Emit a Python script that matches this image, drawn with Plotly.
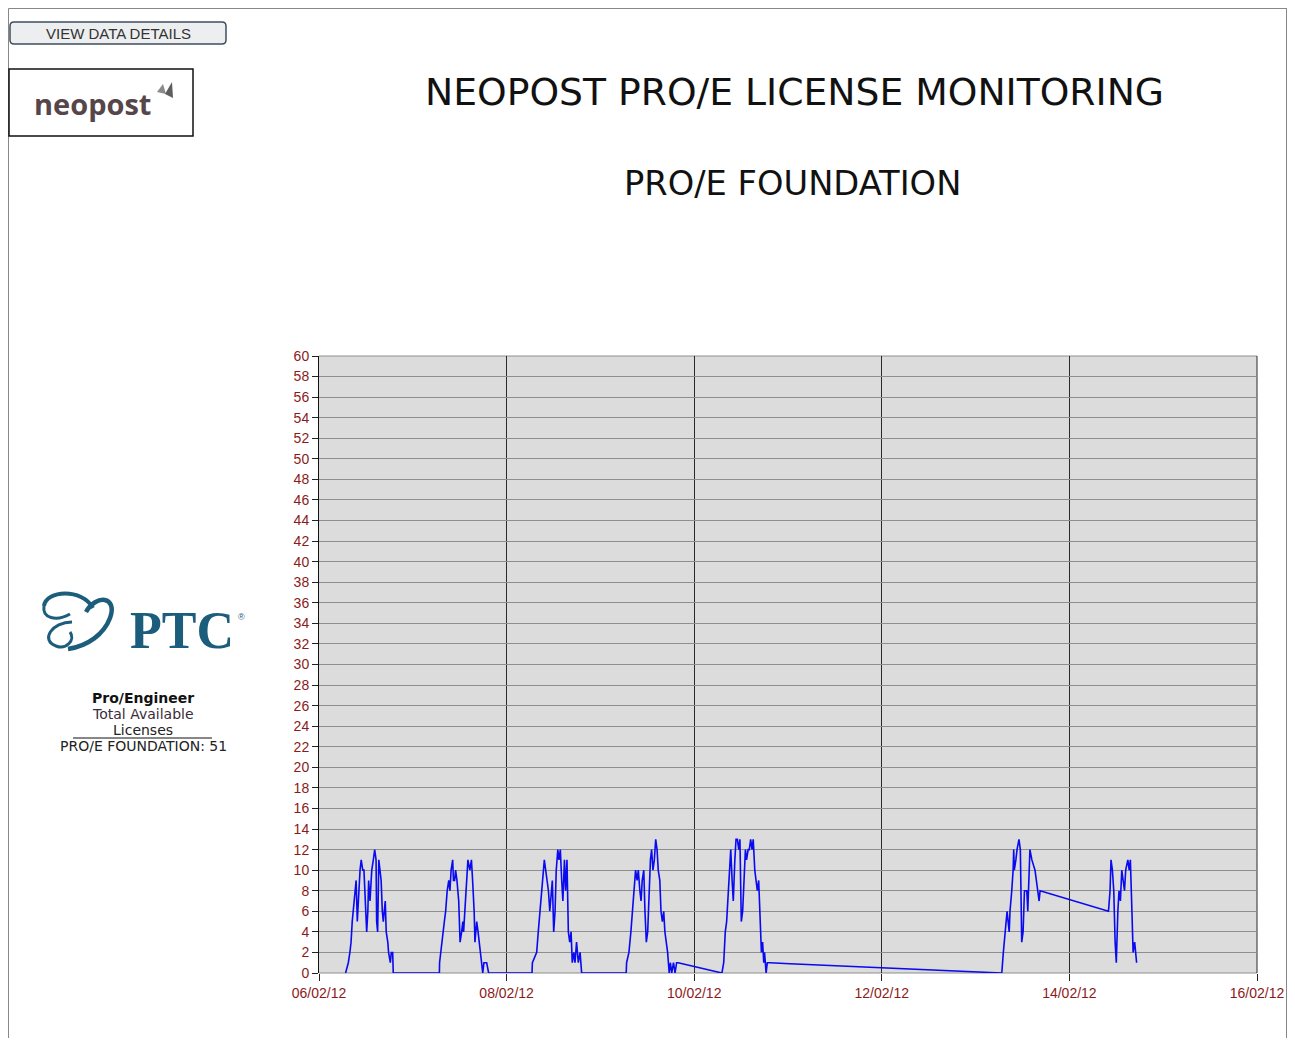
import datetime as dt
import plotly.graph_objects as go

# ---------------- data ----------------
start_date = dt.datetime(2012, 2, 6)
hours_since_start = [
    6.8, 7.5, 7.9, 8.2, 8.5, 9.0, 9.5, 9.8, 10.2, 10.5, 10.8, 11.2, 11.5, 11.85, 12.2, 12.5, 12.7, 13.05,
    13.5, 13.9, 14.25, 14.6, 14.75, 15.0, 15.3, 15.6, 15.9, 16.2, 16.45, 16.7, 16.95, 17.2, 17.6, 17.8,
    18.25, 18.5, 18.85, 19.0,
    30.8, 30.85, 31.55, 32.07, 32.4, 32.8, 33.2, 33.5, 33.8, 34.2, 34.4, 34.7, 34.95, 35.3, 35.75, 36.1,
    36.5, 36.8, 37.0, 37.35, 37.8, 38.1, 38.6, 39.0, 39.3, 39.7, 39.9, 40.35, 40.7, 41.0, 41.2, 41.5,
    41.9, 42.2, 42.9, 43.4,
    54.5, 54.6, 55.7, 56.1, 56.55, 57.0, 57.4, 57.65, 58.0, 58.35, 58.7, 59.05, 59.4, 59.7, 60.05, 60.4,
    60.7, 61.1, 61.4, 61.75, 62.1, 62.4, 62.8, 63.1, 63.45, 63.8, 64.15, 64.5, 64.8, 65.2, 65.5, 65.9,
    66.35, 66.8, 67.2,
    78.6, 78.7, 79.3, 79.8, 80.2, 80.5, 81.0, 81.4, 81.7, 82.1, 82.4, 82.7, 83.1, 83.4, 83.75, 84.1,
    84.4, 84.8, 85.1, 85.45, 85.8, 86.15, 86.5, 86.8, 87.2, 87.5, 87.85, 88.2, 88.5, 88.9, 89.2, 89.6,
    89.9, 90.25, 90.7, 91.1, 91.5, 91.9, 102.6,
    103.1, 103.55, 103.95, 104.3, 104.65, 105.0, 105.35, 105.7, 106.0, 106.4, 106.7, 107.05, 107.4,
    107.7, 108.05, 108.4, 108.75, 109.1, 109.4, 109.8, 110.1, 110.45, 110.8, 111.1, 111.5, 111.8,
    112.15, 112.5, 112.85, 113.2, 113.5, 113.8, 114.0, 114.4, 114.7, 115.4, 120.5, 174.3,
    174.7, 175.1, 175.5, 176.05, 176.6, 176.8, 177.25, 177.6, 177.75, 177.9, 178.3, 178.6, 179.1,
    179.45, 179.8, 180.15, 180.5, 181.1, 181.35, 181.9, 182.4, 183.2, 183.55, 183.9, 184.25, 184.5,
    202.0,
    202.4, 202.65, 203.0, 203.35, 203.7, 204.0, 204.4, 204.7, 205.05, 205.4, 205.75, 206.1, 206.4,
    206.95, 207.3, 207.6, 208.0, 208.3, 208.7, 209.2,
]
licenses_in_use = [
    0, 1, 2, 3, 5, 7, 9, 5, 8, 10, 11, 10, 10, 7, 4, 6, 9, 7,
    10, 11, 12, 11, 5, 4, 11, 10, 9, 6, 5, 6, 7, 4, 3, 2,
    1, 2, 2, 0,
    0, 1, 3, 5, 6, 8, 9, 8, 10, 11, 9, 9, 10, 9, 7, 3,
    4, 5, 4, 6, 9, 11, 10, 11, 9, 6, 3, 5, 4, 3, 2, 1,
    0, 1, 1, 0,
    0, 1, 2, 4, 6, 8, 10, 11, 10, 9, 8, 6, 8, 9, 4, 6,
    10, 12, 11, 12, 9, 7, 11, 8, 11, 4, 3, 4, 1, 2, 1, 3,
    1, 2, 0,
    0, 1, 2, 4, 6, 8, 10, 9, 10, 8, 7, 9, 10, 6, 3, 4,
    8, 11, 12, 10, 11, 13, 12, 10, 9, 6, 5, 6, 4, 3, 2, 0,
    1, 0, 1, 0, 1, 1, 0,
    0, 1, 4, 5, 7, 9, 12, 9, 7, 11, 13, 13, 12,
    13, 5, 6, 10, 12, 11, 12, 12, 13, 12, 13, 10, 9,
    8, 9, 5, 2, 3, 1, 2, 0, 1, 1, 0.9, 0,
    0, 2, 4, 6, 4, 6, 8, 10, 12, 10, 11, 12, 13,
    12, 3, 4, 8, 8, 6, 12, 11, 10, 9, 8, 7, 8,
    6,
    8, 11, 10, 8, 3, 1, 6, 8, 7, 10, 9, 8, 10,
    11, 10, 11, 6, 2, 3, 1,
]
x_range = ["2012-02-06", "2012-02-16"]
y_range = [0, 60]
title_text = "NEOPOST PRO/E LICENSE MONITORING"
subtitle_text = "PRO/E FOUNDATION"
info_lines = ["<b>Pro/Engineer</b>", "Total Available", "Licenses", "PRO/E FOUNDATION: 51"]

timestamps = [start_date + dt.timedelta(hours=h) for h in hours_since_start]

# ---------------- layout helpers (page pixels -> paper) ----------------
OFF = 8  # body margin of the html page
FW, FH = 1279, 1030
L, T, W, H = 311, 348, 938, 617


def px(x):
    return (x - OFF - L) / W


def py(y):
    return (T + H - (y - OFF)) / H


def path(cmds):
    out = []
    for c in cmds:
        if isinstance(c, str):
            out.append(c)
        else:
            out.append(f"{px(c[0]):.5f},{py(c[1]):.5f}")
    return " ".join(out)


fig = go.Figure()
fig.add_trace(go.Scatter(
    x=timestamps, y=licenses_in_use, mode="lines",
    line=dict(color="#0a0af0", width=1.6), showlegend=False, hoverinfo="x+y",
))

tick_font = dict(family="Liberation Sans, Arial, sans-serif", size=14, color="#8b1a1a")

fig.update_layout(
    width=FW, height=FH,
    margin=dict(l=L, r=FW - L - W, t=T, b=FH - T - H, autoexpand=False),
    paper_bgcolor="white", plot_bgcolor="#dcdcdc",
    showlegend=False,
    xaxis=dict(
        type="date", range=x_range, tick0=x_range[0], dtick=2 * 86400000,
        tickformat="%d/%m/%y", ticks="outside", ticklen=7, tickcolor="#222",
        showgrid=True, gridcolor="#2a2a2a", gridwidth=1, automargin=False,
        showline=False, zeroline=False, tickfont=tick_font,
    ),
    yaxis=dict(
        range=y_range, dtick=2, tick0=0, ticks="outside", ticklen=6, tickcolor="#222",
        showgrid=True, gridcolor="#8e8e8e", gridwidth=1, automargin=False,
        showline=True, linecolor="#111", linewidth=1, zeroline=False,
        tickfont=tick_font,
    ),
)

annotations = []
shapes = []

# plot-area edge lines (grid lines that fall on the frame)
shapes.append(dict(type="line", xref="paper", yref="paper", x0=0, x1=1, y0=1, y1=1,
                   line=dict(color="#8e8e8e", width=1), layer="below"))
shapes.append(dict(type="line", xref="paper", yref="paper", x0=0, x1=1, y0=0, y1=0,
                   line=dict(color="#8e8e8e", width=1), layer="below"))
shapes.append(dict(type="line", xref="paper", yref="paper", x0=1, x1=1, y0=0, y1=1,
                   line=dict(color="#2a2a2a", width=1), layer="below"))

# titles
annotations.append(dict(x=px(794), y=py(92), xref="paper", yref="paper", text=title_text,
                        showarrow=False, xanchor="center", yanchor="middle",
                        font=dict(family="DejaVu Sans, Verdana, sans-serif", size=37.7, color="#111")))
annotations.append(dict(x=px(792), y=py(184), xref="paper", yref="paper", text=subtitle_text,
                        showarrow=False, xanchor="center", yanchor="middle",
                        font=dict(family="DejaVu Sans, Verdana, sans-serif", size=33.7, color="#111")))

# page frame
shapes.append(dict(type="line", xref="paper", yref="paper", x0=px(8.5), x1=px(1290), y0=py(8.5), y1=py(8.5),
                   line=dict(color="#888", width=1)))
shapes.append(dict(type="line", xref="paper", yref="paper", x0=px(8.5), x1=px(8.5), y0=py(8.5), y1=py(1047),
                   line=dict(color="#888", width=1)))
shapes.append(dict(type="line", xref="paper", yref="paper", x0=px(1286.5), x1=px(1286.5), y0=py(8.5), y1=py(1047),
                   line=dict(color="#888", width=1)))

# button
r = 4
bx0, by0, bx1, by1 = 10, 22, 226, 44
shapes.append(dict(type="path", xref="paper", yref="paper",
                   path=path(["M", (bx0 + r, by0), "L", (bx1 - r, by0), "Q", (bx1, by0), (bx1, by0 + r),
                              "L", (bx1, by1 - r), "Q", (bx1, by1), (bx1 - r, by1),
                              "L", (bx0 + r, by1), "Q", (bx0, by1), (bx0, by1 - r),
                              "L", (bx0, by0 + r), "Q", (bx0, by0), (bx0 + r, by0), "Z"]),
                   fillcolor="#eceef0", line=dict(color="#3e4e5e", width=1.5)))
annotations.append(dict(x=px(118), y=py(33), xref="paper", yref="paper", text="VIEW DATA DETAILS",
                        showarrow=False, xanchor="center", yanchor="middle",
                        font=dict(family="Liberation Sans, Arial, sans-serif", size=15, color="#333")))

# neopost logo box
shapes.append(dict(type="rect", xref="paper", yref="paper", x0=px(9), x1=px(193), y0=py(69), y1=py(136),
                   fillcolor="white", line=dict(color="#111", width=1.5)))
annotations.append(dict(x=px(92), y=py(103), xref="paper", yref="paper", text="<b>neopost</b>",
                        showarrow=False, xanchor="center", yanchor="middle",
                        font=dict(family="Open Sans, Lato, sans-serif", size=29, color="#56464a")))
shapes.append(dict(type="path", xref="paper", yref="paper",
                   path=path(["M", (157, 92), "L", (163, 84), "L", (166, 94), "Z"]),
                   fillcolor="#8a8a8a", line=dict(width=0)))
shapes.append(dict(type="path", xref="paper", yref="paper",
                   path=path(["M", (165, 94), "L", (172, 82), "L", (173, 98), "Z"]),
                   fillcolor="#5e5e5e", line=dict(width=0)))

# PTC logo
teal = "#1c5d7c"
shapes.append(dict(type="path", xref="paper", yref="paper",
                   path=path(["M", (44, 606), "C", (46, 590), (82, 588), (93, 608)]),
                   line=dict(color=teal, width=4)))
shapes.append(dict(type="path", xref="paper", yref="paper",
                   path=path(["M", (86, 612), "C", (96, 594), (118, 596), (110, 618),
                              "C", (104, 634), (88, 646), (68, 649)]),
                   line=dict(color=teal, width=4.5)))
shapes.append(dict(type="path", xref="paper", yref="paper",
                   path=path(["M", (44, 606), "C", (42, 618), (56, 622), (70, 614)]),
                   line=dict(color=teal, width=3)))
shapes.append(dict(type="path", xref="paper", yref="paper",
                   path=path(["M", (72, 622), "C", (52, 622), (40, 640), (56, 646),
                              "C", (66, 650), (76, 640), (70, 632)]),
                   line=dict(color=teal, width=3)))
annotations.append(dict(x=px(182), y=py(630), xref="paper", yref="paper", text="<b>PTC</b>",
                        showarrow=False, xanchor="center", yanchor="middle",
                        font=dict(family="Liberation Serif, DejaVu Serif, serif", size=52, color=teal)))
annotations.append(dict(x=px(241), y=py(617), xref="paper", yref="paper", text="®",
                        showarrow=False, xanchor="center", yanchor="middle",
                        font=dict(family="Liberation Sans, sans-serif", size=9, color=teal)))

# info text block
info_y = [698, 714, 730, 746]
info_col = ["#111", "#3a2c3a", "#222", "#222"]
for t, yy, cc in zip(info_lines, info_y, info_col):
    annotations.append(dict(x=px(143), y=py(yy), xref="paper", yref="paper", text=t,
                            showarrow=False, xanchor="center", yanchor="middle",
                            font=dict(family="DejaVu Sans, Verdana, sans-serif", size=14, color=cc)))
shapes.append(dict(type="line", xref="paper", yref="paper", x0=px(73), x1=px(212), y0=py(738), y1=py(738),
                   line=dict(color="#111", width=1)))

fig.update_layout(annotations=annotations, shapes=shapes)
fig.write_html("out.html")
